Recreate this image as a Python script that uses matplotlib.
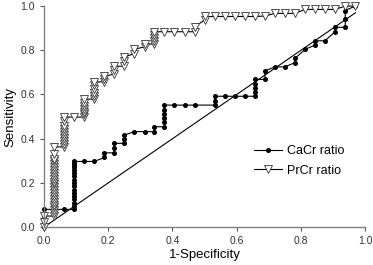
import matplotlib
matplotlib.use("Agg")
from matplotlib import pyplot as plt

# CaCr ratio ROC points (1-specificity, sensitivity)
cacr_fpr = [0, 0, 0, 0.031, 0.063, 0.094,
            0.094, 0.094, 0.094, 0.094, 0.094, 0.094, 0.094, 0.094,
            0.094, 0.094, 0.094, 0.094, 0.094, 0.094, 0.094, 0.094,
            0.125, 0.156, 0.188, 0.188, 0.219, 0.219, 0.219, 0.25, 0.25, 0.25,
            0.281, 0.313, 0.344, 0.344, 0.375, 0.375, 0.375, 0.375, 0.375, 0.375,
            0.406, 0.438, 0.469, 0.531, 0.531, 0.531, 0.563, 0.594, 0.625, 0.656,
            0.656, 0.656, 0.656, 0.656, 0.688, 0.688, 0.719, 0.75, 0.781, 0.781,
            0.813, 0.844, 0.844, 0.875, 0.906, 0.906, 0.938, 0.938, 0.938, 0.969]
cacr_tpr = [0, 0.04, 0.08, 0.08, 0.08, 0.08,
            0.095, 0.11, 0.125, 0.14, 0.155, 0.17, 0.185, 0.2,
            0.215, 0.23, 0.245, 0.26, 0.27, 0.28, 0.29, 0.297,
            0.297, 0.297, 0.315, 0.336, 0.336, 0.358, 0.379, 0.379, 0.397, 0.416,
            0.432, 0.432, 0.432, 0.454, 0.454, 0.474, 0.493, 0.513, 0.532, 0.552,
            0.552, 0.552, 0.552, 0.552, 0.572, 0.592, 0.592, 0.592, 0.592, 0.592,
            0.61, 0.628, 0.648, 0.668, 0.668, 0.707, 0.725, 0.725, 0.744, 0.763,
            0.804, 0.824, 0.843, 0.843, 0.884, 0.904, 0.904, 0.94, 0.98, 1.0]

# PrCr ratio ROC points
prcr_fpr = [0, 0, 0, 0.031, 0.031, 0.031, 0.031, 0.031, 0.031, 0.031, 0.031,
            0.031, 0.031, 0.031, 0.031, 0.031, 0.031, 0.031, 0.031, 0.031,
            0.031, 0.031, 0.031, 0.031, 0.031, 0.031,
            0.063, 0.063, 0.063, 0.063, 0.063, 0.063, 0.063, 0.063, 0.063, 0.063,
            0.094, 0.125, 0.125, 0.125, 0.125, 0.125, 0.125, 0.125,
            0.156, 0.156, 0.156, 0.156, 0.156, 0.156,
            0.188, 0.188, 0.188, 0.219, 0.219, 0.219, 0.25, 0.25, 0.25,
            0.281, 0.281, 0.313, 0.313, 0.344, 0.344, 0.344, 0.344, 0.344,
            0.375, 0.406, 0.438, 0.469, 0.469, 0.5, 0.5,
            0.531, 0.563, 0.594, 0.625, 0.656, 0.688,
            0.719, 0.75, 0.781, 0.813, 0.844, 0.875, 0.906, 0.938, 0.969]
prcr_tpr = [0, 0.024, 0.05, 0.05, 0.063, 0.076, 0.089, 0.102, 0.115, 0.128, 0.141,
            0.154, 0.167, 0.18, 0.193, 0.206, 0.219, 0.232, 0.245, 0.258,
            0.271, 0.284, 0.297, 0.31, 0.33, 0.363,
            0.363, 0.376, 0.389, 0.402, 0.416, 0.43, 0.444, 0.458, 0.478, 0.498,
            0.498, 0.498, 0.51, 0.522, 0.535, 0.548, 0.562, 0.579,
            0.579, 0.594, 0.609, 0.625, 0.641, 0.657,
            0.657, 0.67, 0.683, 0.692, 0.71, 0.728, 0.728, 0.75, 0.77,
            0.785, 0.804, 0.816, 0.828, 0.828, 0.842, 0.856, 0.87, 0.884,
            0.884, 0.884, 0.884, 0.884, 0.906, 0.937, 0.953,
            0.953, 0.953, 0.953, 0.953, 0.953, 0.955,
            0.967, 0.967, 0.967, 0.985, 0.985, 0.985, 0.985, 1.0, 1.0]

diag = [0, 0.97]
ticks = [0.0, 0.2, 0.4, 0.6, 0.8, 1.0]

plt.rcParams['font.family'] = ['Liberation Sans', 'DejaVu Sans']

fig = plt.figure(figsize=(3.73, 2.65), dpi=100)
ax = fig.add_axes([0.118, 0.143, 0.861, 0.834])

ax.plot(diag, diag, color='black', lw=0.8, clip_on=False)
ax.plot(cacr_fpr, cacr_tpr, color='black', lw=0.8, marker='o', ms=2.6,
        mfc='black', mec='black', clip_on=False, label='CaCr ratio')
ax.plot(prcr_fpr, prcr_tpr, color='black', lw=0.8, marker='v', ms=5.5,
        mfc='white', mec='#333333', mew=0.6, clip_on=False, label='PrCr ratio')

ax.set_xlim(0, 1)
ax.set_ylim(0, 1)
ax.set_xticks(ticks)
ax.set_yticks(ticks)
ax.set_xticklabels(['%.1f' % t for t in ticks])
ax.set_yticklabels(['%.1f' % t for t in ticks])
ax.tick_params(labelsize=7.5, colors='#555555', labelcolor='#333333',
               length=3, width=0.8, direction='out')
for s in ['top', 'right']:
    ax.spines[s].set_visible(False)
for s in ['left', 'bottom']:
    ax.spines[s].set_color('#808080')
    ax.spines[s].set_linewidth(1.0)

ax.set_xlabel('1-Specificity', fontsize=9.5, labelpad=2)
ax.set_ylabel('Sensitivity', fontsize=9.5, labelpad=3)

ax.legend(loc='center left', bbox_to_anchor=(0.62, 0.30), frameon=False,
          fontsize=9, handlelength=2.2, handletextpad=0.4, labelspacing=0.6)

fig.savefig('out.png', dpi=100)
